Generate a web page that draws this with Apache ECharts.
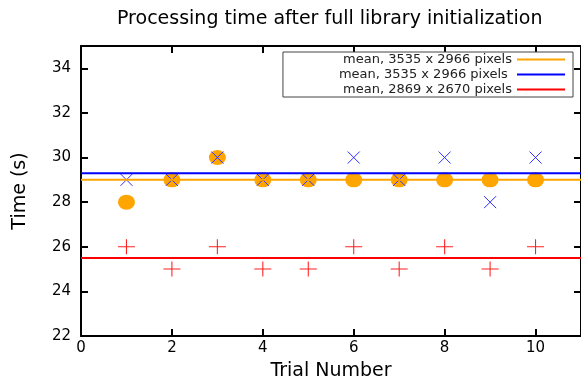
<!DOCTYPE html>
<html>
<head>
<meta charset="utf-8">
<script src="https://cdn.jsdelivr.net/npm/echarts@6/dist/echarts.min.js"></script>
<style>html,body{margin:0;padding:0;background:#fff;}#c{width:581px;height:381px;}</style>
</head>
<body>
<div id="c"></div>
<script>
var trials = [1, 2, 3, 4, 5, 6, 7, 8, 9, 10];
var runA = [28, 29, 30, 29, 29, 29, 29, 29, 29, 29];   // orange circles
var runB = [29, 29, 30, 29, 29, 30, 29, 30, 28, 30];   // blue crosses
var runC = [26, 25, 26, 25, 25, 26, 25, 26, 25, 26];   // red pluses
var meanA = 29.0;
var meanB = 29.3;
var meanC = 25.5;
var meanNames = ['mean, 3535 x 2966 pixels', 'mean, 3535 x 2966 pixels ', 'mean, 2869 x 2670 pixels'];
var xRange = [0, 11];
var yRange = [22, 35];

function pts(vals) { return trials.map(function (t, i) { return [t, vals[i]]; }); }
function hline(v) { return [[xRange[0], v], [xRange[1], v]]; }

var FONT = 'DejaVu Sans';
var chart = echarts.init(document.getElementById('c'), null, { renderer: 'canvas' });
var axisCommon = {
  axisLine: { show: true, onZero: false, lineStyle: { color: '#000', width: 2 } },
  axisTick: { show: true, inside: true, length: 7, lineStyle: { color: '#000', width: 2 } },
  splitLine: { show: false }
};
chart.setOption({
  animation: false,
  backgroundColor: '#fff',
  title: {
    text: 'Processing time after full library initialization',
    left: 112, top: 5,
    textStyle: { fontFamily: FONT, fontSize: 19, fontWeight: 'normal', color: '#000' }
  },
  legend: {
    data: meanNames,
    orient: 'vertical', align: 'right', right: 8, top: 52,
    padding: [1, 8, 1, 56], itemGap: 2, itemWidth: 48, itemHeight: 2,
    icon: 'rect',
    borderColor: '#444', borderWidth: 1, backgroundColor: '#fff',
    textStyle: { fontFamily: FONT, fontSize: 13, lineHeight: 13, color: '#222' }
  },
  grid: { left: 81, right: 0, top: 46, bottom: 45, outerBoundsMode: 'none', containLabel: false },
  xAxis: [
    Object.assign({}, axisCommon, {
      type: 'value', min: xRange[0], max: xRange[1], interval: 2, position: 'bottom',
      name: 'Trial Number', nameLocation: 'middle', nameGap: 26,
      nameTextStyle: { fontFamily: FONT, fontSize: 19, color: '#000' },
      axisLabel: { fontFamily: FONT, fontSize: 15, color: '#000', margin: 5, showMaxLabel: false }
    }),
    Object.assign({}, axisCommon, {
      type: 'value', min: xRange[0], max: xRange[1], interval: 2, position: 'top',
      axisLabel: { show: false }
    })
  ],
  yAxis: [
    Object.assign({}, axisCommon, {
      type: 'value', min: yRange[0], max: yRange[1], interval: 2, position: 'left',
      name: 'Time (s)', nameLocation: 'middle', nameGap: 51,
      nameTextStyle: { fontFamily: FONT, fontSize: 19, color: '#000' },
      axisLabel: { fontFamily: FONT, fontSize: 15, color: '#000', margin: 10, showMaxLabel: false }
    }),
    Object.assign({}, axisCommon, {
      type: 'value', min: yRange[0], max: yRange[1], interval: 2, position: 'right',
      axisLabel: { show: false }
    })
  ],
  series: [
    { type: 'scatter', data: pts(runA), symbol: 'circle', symbolSize: [17, 15],
      itemStyle: { color: '#FFA500', opacity: 1 }, z: 2 },
    { type: 'scatter', data: pts(runB), symbol: 'path://M0,0L10,10M10,0L0,10', symbolSize: 12,
      itemStyle: { color: 'rgba(0,0,0,0)', borderColor: '#3030ff', borderWidth: 1, opacity: 1 }, z: 3 },
    { type: 'scatter', data: pts(runC), symbol: 'path://M5,0L5,10M0,5L10,5', symbolSize: [17, 15],
      itemStyle: { color: 'rgba(0,0,0,0)', borderColor: '#ff2020', borderWidth: 1, opacity: 1 }, z: 3 },
    { type: 'line', name: meanNames[0], data: hline(meanA), showSymbol: false, symbol: 'none',
      lineStyle: { color: '#FFA500', width: 2 }, itemStyle: { color: '#FFA500' }, z: 4 },
    { type: 'line', name: meanNames[1], data: hline(meanB), showSymbol: false, symbol: 'none',
      lineStyle: { color: '#0000FF', width: 2 }, itemStyle: { color: '#0000FF' }, z: 4 },
    { type: 'line', name: meanNames[2], data: hline(meanC), showSymbol: false, symbol: 'none',
      lineStyle: { color: '#FF0000', width: 2 }, itemStyle: { color: '#FF0000' }, z: 4 }
  ]
});
</script>
</body>
</html>
